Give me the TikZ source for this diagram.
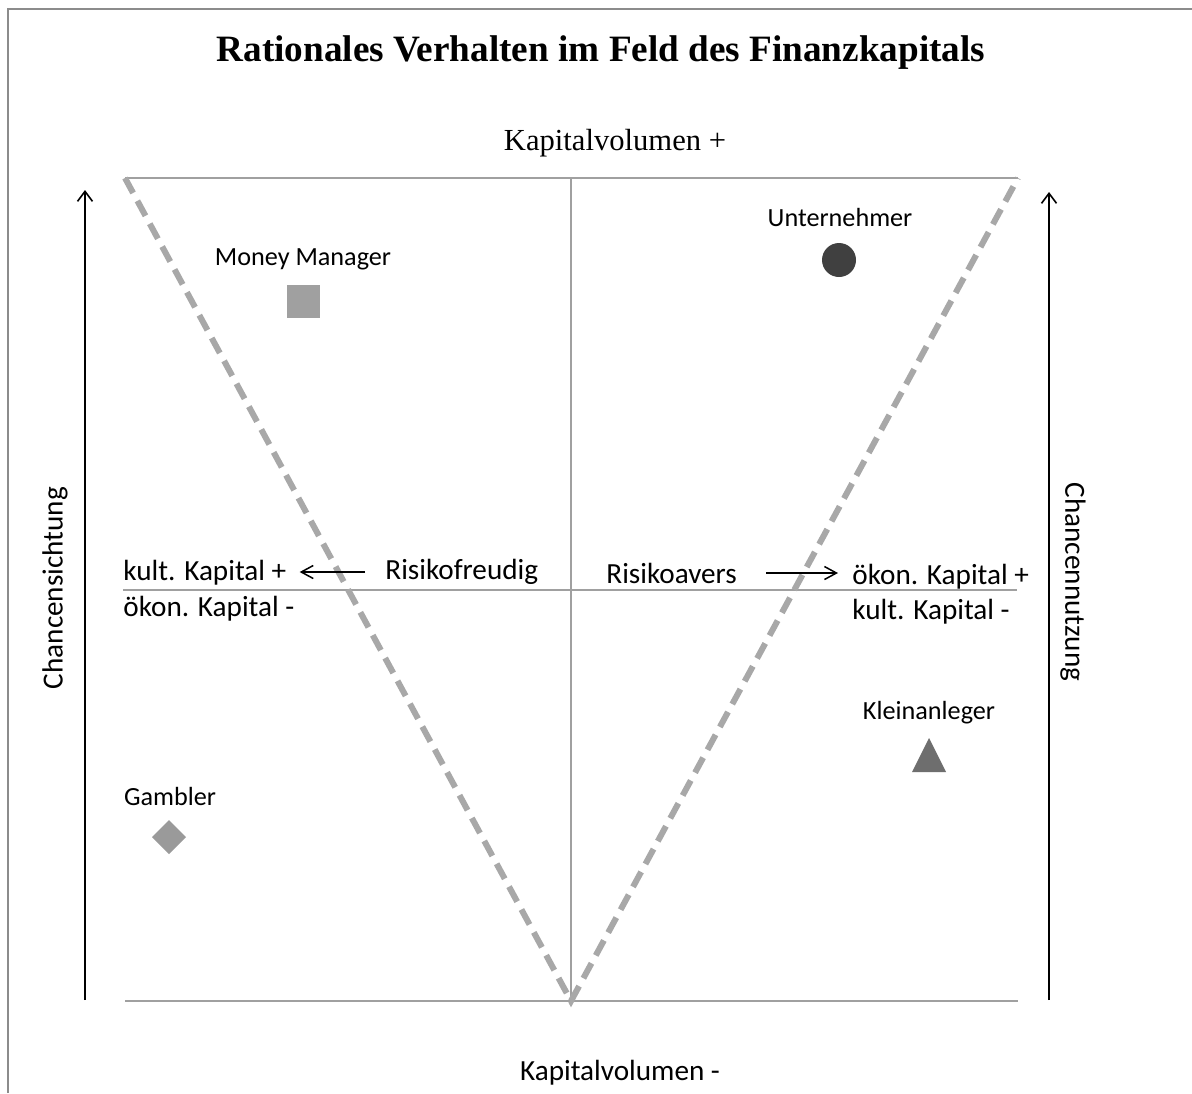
\documentclass[tikz,border=0pt]{standalone}
\usepackage{fontspec}
\setmainfont{Liberation Serif}
\newfontfamily\calfont{Carlito}
\usetikzlibrary{arrows.meta}
\definecolor{gridgray}{HTML}{A0A0A0}
\definecolor{dashgray}{HTML}{A8A8A8}
\definecolor{framegray}{HTML}{8C8C8C}
\definecolor{squaregray}{HTML}{A0A0A0}
\definecolor{circlegray}{HTML}{404040}
\definecolor{trigray}{HTML}{6E6E6E}
\definecolor{diamgray}{HTML}{9A9A9A}
\tikzset{
  gridline/.style={draw=gridgray, line width=1pt},
  midline/.style={draw=gridgray, line width=0.8pt},
  dashline/.style={draw=dashgray, line width=3pt, dash pattern=on 8.5pt off 4.5pt, line join=miter},
  axisarrow/.style={draw=black, line width=0.8pt, -{Straight Barb[length=5pt,width=7.5pt]}},
  sidearrow/.style={draw=black, line width=0.75pt, -{Straight Barb[length=6pt,width=6.5pt]}},
  bodytext/.style={font=\calfont\fontsize{14.6}{17}\selectfont, inner sep=0pt},
  smalltext/.style={font=\calfont\fontsize{13.1}{15}\selectfont, inner sep=0pt},
}
\begin{document}
\begin{tikzpicture}[x=0.5pt,y=-0.5pt]
\useasboundingbox (0,0) rectangle (1192,1093);
\fill[white] (0,0) rectangle (1192,1093);
\draw[framegray, line width=0.8pt] (8,1093) -- (8,9) -- (1192,9);
\node[font=\bfseries\fontsize{18.6}{22}\selectfont, inner sep=0pt] (title) at (601,53) {Rationales Verhalten im Feld des Finanzkapitals};
\node[font=\fontsize{15.3}{18}\selectfont, inner sep=0pt] (kvplus) at (615,143) {Kapitalvolumen +};
\node[bodytext] (kvminus) at (620,1073) {Kapitalvolumen -};
\draw[gridline] (125,178) -- (1018,178);
\draw[gridline] (125,1001) -- (1018,1001);
\draw[gridline] (571,178) -- (571,1001);
\draw[midline] (123,590) -- (1017,590);
\draw[dashline] (125,178) -- (571,1001) -- (1018,178);
\coordinate (la0) at (85,1000);
\coordinate (la1) at (85,190);
\coordinate (ra0) at (1049,1000);
\coordinate (ra1) at (1049,192);
\draw[axisarrow] (la0) -- (la1);
\draw[axisarrow] (ra0) -- (ra1);
\node[bodytext, rotate=90] (cs) at (55,588) {Chancensichtung};
\node[bodytext, rotate=-90] (cn) at (1073,582) {Chancennutzung};
\node[bodytext, anchor=west] (kkplus) at (123,573) {kult. Kapital +};
\node[bodytext, anchor=west] (okminus) at (123,609) {ökon. Kapital -};
\node[bodytext, anchor=west] (rf) at (385,572) {Risikofreudig};
\node[bodytext, anchor=west] (ra) at (606,573) {Risikoavers};
\node[bodytext, anchor=west] (okplus) at (852,577) {ökon. Kapital +};
\node[bodytext, anchor=west] (kkminus) at (852,612) {kult. Kapital -};
\draw[sidearrow, shorten <=10pt, shorten >=6.5pt] (rf.west) -- (rf.west -| kkplus.east);
\draw[sidearrow, shorten <=14.5pt, shorten >=7pt] (ra.east) -- (ra.east -| okplus.west);
\node[smalltext] (mm) at (303,259) {Money Manager};
\fill[squaregray] (287,285) rectangle (320,318);
\node[smalltext] (un) at (840,217) {Unternehmer};
\fill[circlegray] (839,260) circle[radius=8.5pt];
\node[smalltext] (kl) at (929,713) {Kleinanleger};
\fill[trigray] (929,738) -- (946,772) -- (912,772) -- cycle;
\node[smalltext] (ga) at (170,796) {Gambler};
\fill[diamgray] (169,820) -- (186,837) -- (169,854) -- (152,837) -- cycle;
\end{tikzpicture}
\end{document}
